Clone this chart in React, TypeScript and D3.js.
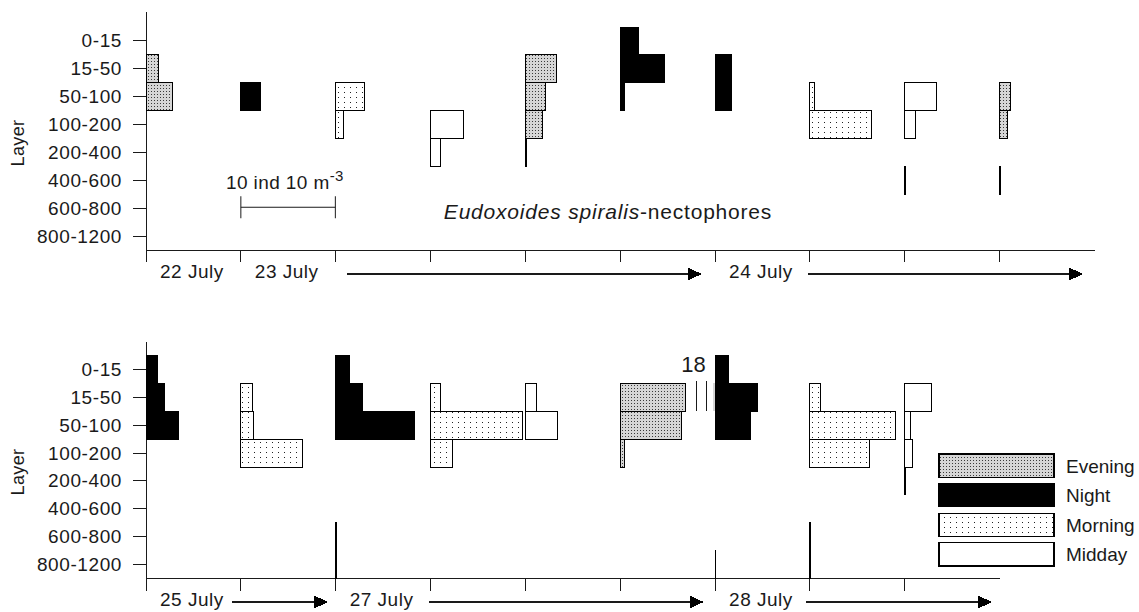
import React from "react";
import * as d3 from "d3";

// Vertical distribution of Eudoxoides spiralis nectophores per station, two panels.
const layers = ["0-15", "15-50", "50-100", "100-200", "200-400", "400-600", "600-800", "800-1200"];
const periods = ["Evening", "Night", "Morning", "Midday"];

// top panel: period sampled at each station and abundance per layer (ind 10 m-3)
const topPeriod = ["Evening", "Night", "Morning", "Midday", "Evening", "Night", "Night", "Morning", "Midday", "Evening"];
const topValues = [
  [0, 1.3, 2.8, 0, 0, 0, 0, 0],
  [0, 0, 2.1, 0, 0, 0, 0, 0],
  [0, 0, 3.0, 0.85, 0, 0, 0, 0],
  [0, 0, 0, 3.5, 1.1, 0, 0, 0],
  [0, 3.3, 2.1, 1.8, 0.1, 0, 0, 0],
  [1.95, 4.65, 0.5, 0, 0, 0, 0, 0],
  [0, 1.7, 1.7, 0, 0, 0, 0, 0],
  [0, 0, 0.5, 6.5, 0, 0, 0, 0],
  [0, 0, 3.4, 1.1, 0, 0.1, 0, 0],
  [0, 0, 1.1, 0.85, 0, 0.1, 0, 0],
];

const bottomPeriod = ["Night", "Morning", "Night", "Morning", "Midday", "Evening", "Night", "Morning", "Midday"];
const bottomValues = [
  [1.2, 2.0, 3.4, 0, 0, 0, 0, 0],
  [0, 1.2, 1.3, 6.5, 0, 0, 0, 0],
  [1.5, 2.8, 8.3, 0, 0, 0, 0.1, 0.1],
  [0, 1.1, 9.7, 2.3, 0, 0, 0, 0],
  [0, 1.2, 3.4, 0, 0, 0, 0, 0],
  [0, 18, 6.45, 0.45, 0, 0, 0, 0],
  [1.45, 4.5, 3.7, 0, 0, 0, 0, 0.02],
  [0, 1.1, 9.0, 6.3, 0, 0, 0.1, 0.1],
  [0, 2.85, 0.6, 0.8, 0.1, 0, 0, 0],
];
const breakAbove = 12; // values above this get a broken bar
const cutAt = 6.9; // length the broken bar is drawn to

const topDates = [
  { label: "22 July", station: 0 },
  { label: "23 July", station: 1 },
  { label: "24 July", station: 6 },
];
const topArrows = [
  [2.12, 5.86],
  [6.98, 9.88],
];
const bottomDates = [
  { label: "25 July", station: 0 },
  { label: "27 July", station: 2 },
  { label: "28 July", station: 6 },
];
const bottomArrows = [
  [0.91, 1.92],
  [2.98, 5.88],
  [6.96, 8.92],
];

const FONT = "'Liberation Sans', Arial, sans-serif";
const INK = "#1a1a1a";

const x = d3.scaleLinear().domain([0, 1]).range([146, 240.85]);
const w = d3.scaleLinear().domain([0, 10]).range([0, 94.5]);

const fillFor = (p: string) =>
  p === "Night" ? "#000" : p === "Midday" ? "#fff" : p === "Evening" ? "url(#evening)" : "url(#morning)";

function Panel({ y, axisTop, periodList, values, nAxis, dates, arrows, labelY, tallTick }: any) {
  const axisY = y.range()[1];
  const stations = d3.range(nAxis);
  return (
    <g>
      {/* y axis */}
      <line x1={x(0)} x2={x(0)} y1={axisTop} y2={axisY} stroke={INK} />
      {layers.map((l) => {
        const cy = y(l) + y.bandwidth() / 2;
        return (
          <g key={l}>
            <line x1={x(0) - 13} x2={x(0)} y1={cy} y2={cy} stroke={INK} />
            <text x={122} y={cy + 6.5} textAnchor="end" fontSize={19} letterSpacing={0.6} fill={INK} fontFamily={FONT}>
              {l}
            </text>
          </g>
        );
      })}
      <text
        transform={`translate(24,${(axisTop + axisY) / 2 + 12}) rotate(-90)`}
        textAnchor="middle"
        fontSize={18}
        letterSpacing={0.4}
        fill={INK}
        fontFamily={FONT}
      >
        Layer
      </text>
      {/* x axis */}
      <line x1={x(0)} x2={x(nAxis)} y1={axisY} y2={axisY} stroke={INK} />
      {stations.map((s) => (
        <line key={s} x1={x(s)} x2={x(s)} y1={axisY} y2={axisY + 12} stroke={INK} />
      ))}
      {tallTick != null && (
        <line x1={x(tallTick)} x2={x(tallTick)} y1={axisY - 28} y2={axisY + 12} stroke={INK} />
      )}
      {/* bars */}
      {values.map((row: number[], s: number) =>
        row.map((v, li) => {
          if (!v) return null;
          const x0 = x(s);
          const y0 = y(layers[li]);
          const h = y.bandwidth();
          if (v > breakAbove) {
            const c = x0 + w(cutAt);
            return (
              <g key={`${s}-${li}`}>
                <rect x={x0} y={y0} width={w(cutAt)} height={h} fill={fillFor(periodList[s])} stroke="#000" />
                <rect x={c + 28} y={y0} width={3} height={h} fill={fillFor(periodList[s])} />
                <line x1={c + 11} x2={c + 11} y1={y0 - 2} y2={y0 + h} stroke={INK} />
                <line x1={c + 21} x2={c + 21} y1={y0 - 2} y2={y0 + h} stroke={INK} />
                <text x={c + 8} y={y0 - 11} textAnchor="middle" fontSize={22} fill={INK} fontFamily={FONT}>
                  {v}
                </text>
              </g>
            );
          }
          return (
            <rect
              key={`${s}-${li}`}
              x={x0}
              y={y0}
              width={Math.max(w(v), 0.2)}
              height={h}
              fill={fillFor(periodList[s])}
              stroke="#000"
            />
          );
        })
      )}
      {/* date labels and arrows */}
      {dates.map((d: any) => (
        <text key={d.label} x={x(d.station) + 14} y={labelY} fontSize={19} letterSpacing={0.5} fill={INK} fontFamily={FONT}>
          {d.label}
        </text>
      ))}
      {arrows.map(([a, b]: number[], i: number) => (
        <g key={i}>
          <line x1={x(a)} x2={x(b) - 12} y1={labelY - 4} y2={labelY - 4} stroke={INK} strokeWidth={1.2} />
          <path
            d={`M${x(b)},${labelY - 4} L${x(b) - 14},${labelY - 10.5} L${x(b) - 14},${labelY + 2.5} Z`}
            fill="#000"
          />
        </g>
      ))}
    </g>
  );
}

export default function App() {
  const yTop = d3.scaleBand().domain(layers).range([27, 250]);
  const yBot = d3.scaleBand().domain(layers).range([355.5, 578.5]);
  const legendY = d3.scaleBand().domain(periods).range([454, 566]).paddingInner(0.22);
  const barY = yTop("600-800")! + 5;
  return (
    <svg width={1139} height={612} style={{ position: "absolute", left: 0, top: 0, background: "#fff" }}>
      <defs>
        <pattern id="evening" width={3} height={3} patternUnits="userSpaceOnUse">
          <rect width={3} height={3} fill="#d6d6d6" />
          <rect x={1} y={1} width={1} height={1} fill="#3a3a3a" />
        </pattern>
        <pattern id="morning" width={6} height={5} patternUnits="userSpaceOnUse">
          <rect width={6} height={5} fill="#fff" />
          <rect x={2} y={2} width={1} height={1} fill="#222" />
        </pattern>
      </defs>
      <g shapeRendering="crispEdges">
        <Panel
          y={yTop}
          axisTop={12}
          periodList={topPeriod}
          values={topValues}
          nAxis={10}
          dates={topDates}
          arrows={topArrows}
          labelY={278}
        />
        <Panel
          y={yBot}
          axisTop={341.5}
          periodList={bottomPeriod}
          values={bottomValues}
          nAxis={9}
          dates={bottomDates}
          arrows={bottomArrows}
          labelY={606}
          tallTick={6}
        />
      </g>
      {/* scale bar */}
      <g stroke={INK}>
        <line x1={x(1)} x2={x(1) + w(10)} y1={barY + 8} y2={barY + 8} />
        <line x1={x(1)} x2={x(1)} y1={barY - 3} y2={barY + 19} />
        <line x1={x(1) + w(10)} x2={x(1) + w(10)} y1={barY - 3} y2={barY + 19} />
      </g>
      <text x={226} y={189} fontSize={19} letterSpacing={0.4} fill={INK} fontFamily={FONT}>
        10 ind 10 m<tspan dy={-8} fontSize={15}>-3</tspan>
      </text>
      <text x={608} y={219} textAnchor="middle" fontSize={21} letterSpacing={0.8} fill={INK} fontFamily={FONT}>
        <tspan fontStyle="italic">Eudoxoides spiralis</tspan>-nectophores
      </text>
      {/* legend */}
      {periods.map((p) => (
        <g key={p}>
          <rect
            x={939}
            y={legendY(p)}
            width={115}
            height={legendY.bandwidth()}
            fill={fillFor(p)}
            stroke="#000"
            strokeWidth={1.2}
            shapeRendering="crispEdges"
          />
          <text x={1066} y={legendY(p)! + legendY.bandwidth() / 2 + 7} fontSize={19} fill={INK} fontFamily={FONT}>
            {p}
          </text>
        </g>
      ))}
    </svg>
  );
}
